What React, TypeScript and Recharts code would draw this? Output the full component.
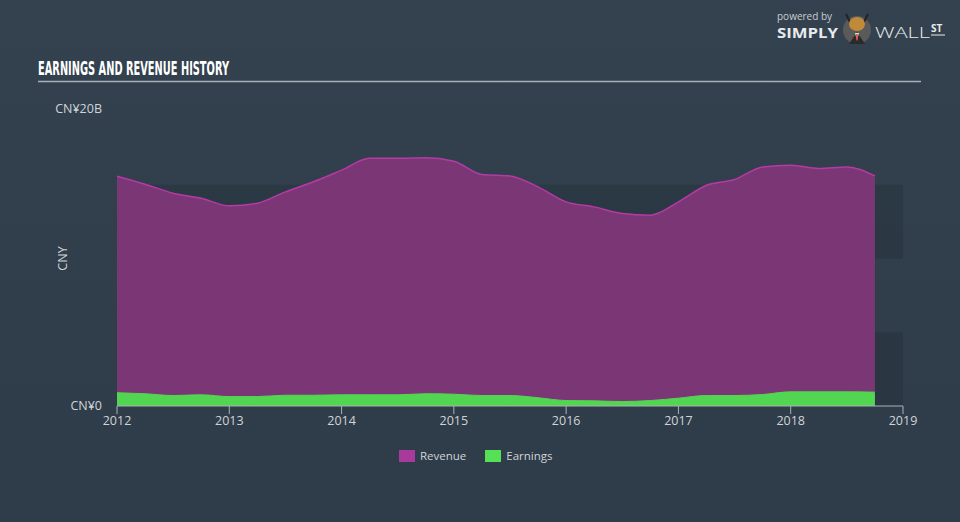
import { AreaChart, Area, XAxis, YAxis, ReferenceArea } from 'recharts';

// quarterly periods, in fractional years
const periods = [
  2012, 2012.25, 2012.5, 2012.75,
  2013, 2013.25, 2013.5, 2013.75,
  2014, 2014.25, 2014.5, 2014.75,
  2015, 2015.25, 2015.5, 2015.75,
  2016, 2016.25, 2016.5, 2016.75,
  2017, 2017.25, 2017.5, 2017.75,
  2018, 2018.25, 2018.5, 2018.75,
];

// CNY billions
const revenue = [
  15.58, 15.04, 14.43, 14.09,
  13.57, 13.75, 14.52, 15.2,
  15.99, 16.79, 16.79, 16.83,
  16.6, 15.7, 15.6, 14.86,
  13.84, 13.5, 13.05, 12.94,
  13.84, 14.97, 15.36, 16.21,
  16.33, 16.11, 16.21, 15.6,
];

const earnings = [
  0.9, 0.83, 0.71, 0.76,
  0.64, 0.64, 0.73, 0.73,
  0.76, 0.76, 0.76, 0.83,
  0.8, 0.71, 0.71, 0.56,
  0.37, 0.35, 0.3, 0.37,
  0.53, 0.71, 0.71, 0.78,
  0.96, 0.96, 0.96, 0.94,
];

const yearTicks = [2012, 2013, 2014, 2015, 2016, 2017, 2018, 2019];
const valueTicks = [0, 20];
const valueTickLabels = ['CN¥0', 'CN¥20B'];
const darkBands = [
  [0, 5],
  [10, 15],
];

const data = periods.map((p, i) => ({ period: p, revenue: revenue[i], earnings: earnings[i] }));

const TICK_COLOR = '#cfd4d9';
const AXIS_COLOR = '#a9b1b9';
const REVENUE_FILL = '#7b3775';
const REVENUE_LINE = '#b43aa5';
const EARNINGS_FILL = '#52d652';

const legendItems = [
  { name: 'Revenue', color: '#a83a9c' },
  { name: 'Earnings', color: '#55e055' },
];

const Header = () => (
  <svg width={960} height={100} style={{ position: 'absolute', left: 0, top: 0, pointerEvents: 'none' }}>
    <text
      x={38}
      y={75}
      fill="#ffffff"
      fontFamily="'DejaVu Sans Condensed', 'Liberation Sans Narrow', sans-serif"
      fontWeight="bold"
      fontSize={20}
      textLength={191}
      lengthAdjust="spacingAndGlyphs"
    >
      EARNINGS AND REVENUE HISTORY
    </text>
    <line x1={38} x2={921} y1={81.5} y2={81.5} stroke="#a8b0b8" strokeWidth={1.5} />

    {/* powered by logo */}
    <text x={777} y={20} fill="#c8ccd0" fontFamily="'Open Sans', sans-serif" fontSize={10}>
      powered by
    </text>
    <text
      x={777}
      y={38}
      fill="#e8eaec"
      fontFamily="'Open Sans', sans-serif"
      fontWeight="bold"
      fontSize={14}
      textLength={61}
      lengthAdjust="spacingAndGlyphs"
    >
      SIMPLY
    </text>
    <circle cx={857} cy={30} r={14} fill="#5a5a5a" />
    <path d="M846 14 L850 22 M868 14 L864 22" stroke="#222" strokeWidth={2} />
    <ellipse cx={857} cy={24} rx={8} ry={7} fill="#c08a3a" />
    <path d="M849 44 L857 32 L865 44 Z" fill="#2a2a2a" />
    <path d="M855 33 L859 33 L857 41 Z" fill="#e0e0e0" />
    <line x1={857} y1={34} x2={857} y2={40} stroke="#d0401c" strokeWidth={1.5} />
    <text
      x={875}
      y={38}
      fill="#e8eaec"
      fontFamily="'Open Sans', sans-serif"
      fontWeight={300}
      fontSize={14}
      textLength={55}
      lengthAdjust="spacingAndGlyphs"
    >
      WALL
    </text>
    <text x={931} y={32} fill="#e8eaec" fontFamily="'Open Sans', sans-serif" fontWeight="bold" fontSize={10}>
      ST
    </text>
    <line x1={931} x2={945} y1={35} y2={35} stroke="#e8eaec" strokeWidth={1} />
  </svg>
);

const Legend = () => (
  <div
    style={{
      position: 'absolute',
      left: 399,
      top: 448,
      display: 'flex',
      alignItems: 'center',
      fontFamily: "'Open Sans', sans-serif",
      fontSize: 11.5,
      color: TICK_COLOR,
    }}
  >
    {legendItems.map((it) => (
      <div key={it.name} style={{ display: 'flex', alignItems: 'center', marginRight: 19 }}>
        <span style={{ display: 'inline-block', width: 16, height: 12, background: it.color, marginRight: 5 }} />
        <span>{it.name}</span>
      </div>
    ))}
  </div>
);

const YTick = ({ x, y, payload }: any) => {
  const idx = valueTicks.indexOf(payload.value);
  return (
    <text
      x={x}
      y={y + (idx === 1 ? -3 : -1)}
      textAnchor="end"
      dominantBaseline="central"
      fill={TICK_COLOR}
      fontFamily="'Open Sans', sans-serif"
      fontSize={12.5}
    >
      {valueTickLabels[idx]}
    </text>
  );
};

export default function App() {
  return (
    <div
      style={{
        position: 'absolute',
        left: 0,
        top: 0,
        width: 960,
        height: 522,
        overflow: 'hidden',
        background: 'linear-gradient(180deg, #34424f 0%, #303d4a 60%, #2f3c49 100%)',
      }}
    >
      <Header />
      <AreaChart width={960} height={522} data={data} margin={{ top: 111, right: 57, bottom: 86, left: 0 }}>
        {darkBands.map(([y1, y2]) => (
          <ReferenceArea key={y1} y1={y1} y2={y2} fill="#1f2a36" fillOpacity={0.3} stroke="none" ifOverflow="visible" />
        ))}
        <XAxis
          dataKey="period"
          type="number"
          domain={[2012, 2019]}
          ticks={yearTicks}
          height={30}
          tickSize={8}
          tickMargin={2}
          axisLine={{ stroke: AXIS_COLOR }}
          tickLine={{ stroke: AXIS_COLOR }}
          tick={{ fill: TICK_COLOR, fontSize: 12.5, fontFamily: "'Open Sans', sans-serif" }}
          interval={0}
        />
        <YAxis
          type="number"
          domain={[0, 20]}
          ticks={valueTicks}
          width={117}
          axisLine={false}
          tickLine={false}
          tickMargin={9}
          tick={<YTick />}
          label={{
            content: ({ viewBox }: any) => (
              <text
                x={62}
                y={viewBox.y + viewBox.height / 2}
                transform={`rotate(-90 62 ${viewBox.y + viewBox.height / 2})`}
                textAnchor="middle"
                dominantBaseline="central"
                fill={TICK_COLOR}
                fontFamily="'Open Sans', sans-serif"
                fontSize={12.5}
              >
                CNY
              </text>
            ),
          }}
        />
        <Area
          type="monotone"
          dataKey="revenue"
          name="Revenue"
          stroke={REVENUE_LINE}
          strokeWidth={1.5}
          fill={REVENUE_FILL}
          fillOpacity={1}
          isAnimationActive={false}
        />
        <Area
          type="monotone"
          dataKey="earnings"
          name="Earnings"
          stroke={EARNINGS_FILL}
          strokeWidth={1}
          fill={EARNINGS_FILL}
          fillOpacity={1}
          isAnimationActive={false}
        />
      </AreaChart>
      <Legend />
    </div>
  );
}
